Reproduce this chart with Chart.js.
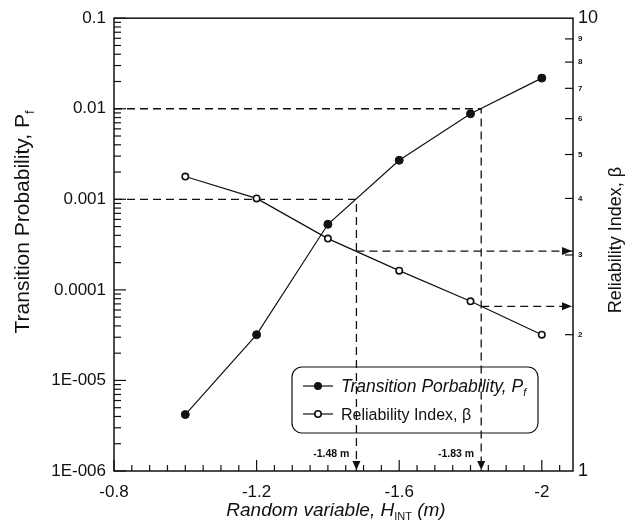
<!DOCTYPE html>
<html><head><meta charset="utf-8">
<script src="https://cdn.jsdelivr.net/npm/chart.js@4.4.0/dist/chart.umd.min.js"></script>
<style>html,body{margin:0;padding:0;background:#fff;}#wrap{width:627px;height:526px;position:relative;}</style>
</head><body><div id="wrap"><canvas id="c" width="627" height="526"></canvas></div>
<script>
// ---- data ----
const xValues = [-1.0, -1.2, -1.4, -1.6, -1.8, -2.0];
const transitionProb = [4.2e-6, 3.2e-5, 5.3e-4, 2.7e-3, 8.8e-3, 0.0218];
const reliabilityIdx = [4.47, 4.0, 3.26, 2.77, 2.37, 2.0];

// axes
const xMin = -2.0875, xMax = -0.8;
const xTickValues = [-0.8,-0.85,-0.9,-0.95,-1.0,-1.05,-1.1,-1.15,-1.2,-1.25,-1.3,-1.35,-1.4,-1.45,-1.5,-1.55,-1.6,-1.65,-1.7,-1.75,-1.8,-1.85,-1.9,-1.95,-2.0,-2.05];
const xLabelValues = [-0.8, -1.2, -1.6, -2.0];
const xLabelText = ['-0.8', '-1.2', '-1.6', '-2'];
const pfDecades = [1e-6, 1e-5, 1e-4, 1e-3, 1e-2, 1e-1];
const pfLabels = ['1E-006', '1E-005', '0.0001', '0.001', '0.01', '0.1'];
const betaTicks = [1,2,3,4,5,6,7,8,9,10];
const betaLabels = ['1','2','3','4','5','6','7','8','9','10'];

// reference guides
const guideX = [-1.48, -1.83];
const guidePf = [0.001, 0.01];
const guideBeta = [3.06, 2.31];
const guideText = ['-1.48 m', '-1.83 m'];

const FONT = '"Liberation Sans", Arial, Helvetica, sans-serif';
const INK = '#111';

function pts(xs, ys){ return xs.map((x,i)=>({x:x, y:ys[i]})); }

const datasets = [
  {label:'Pf', data: pts(xValues, transitionProb), yAxisID:'y', borderColor:INK, borderWidth:1.2,
   pointRadius:4, pointBackgroundColor:INK, pointBorderColor:INK, pointBorderWidth:1, tension:0},
  {label:'beta', data: pts(xValues, reliabilityIdx), yAxisID:'y2', borderColor:INK, borderWidth:1.2,
   pointRadius:3.2, pointBackgroundColor:'#fff', pointBorderColor:INK, pointBorderWidth:1.6, tension:0}
];
guideX.forEach((gx,i)=>{
  datasets.push({label:'g'+i, data:[{x:xMax,y:guidePf[i]},{x:gx,y:guidePf[i]},{x:gx,y:pfDecades[0]}],
    yAxisID:'y', borderColor:INK, borderWidth:1.3, borderDash:[8,5], pointRadius:0, tension:0});
  datasets.push({label:'b'+i, data:[{x:gx,y:guideBeta[i]},{x:xMin,y:guideBeta[i]}],
    yAxisID:'y2', borderColor:INK, borderWidth:1.3, borderDash:[8,5], pointRadius:0, tension:0});
});

function rich(ctx, parts, x, y, rot, align){
  ctx.save(); ctx.translate(x,y); ctx.rotate(rot);
  let w=0; parts.forEach(p=>{ctx.font=p.f; p.w=ctx.measureText(p.t).width; w+=p.w;});
  let cx = align==='center' ? -w/2 : (align==='right' ? -w : 0);
  ctx.textBaseline='alphabetic'; ctx.textAlign='left'; ctx.fillStyle=INK;
  parts.forEach(p=>{ctx.font=p.f; ctx.fillText(p.t, cx, p.dy||0); cx+=p.w;});
  ctx.restore();
}

const decor = {
  id:'decor',
  afterDatasetsDraw(chart){
    const ctx = chart.ctx, a = chart.chartArea;
    const sx = chart.scales.x, sy = chart.scales.y, sy2 = chart.scales.y2;
    ctx.save();
    ctx.strokeStyle = INK; ctx.fillStyle = INK;
    // frame
    ctx.lineWidth = 1.5;
    ctx.strokeRect(a.left, a.top, a.right-a.left, a.bottom-a.top);
    // ticks left (log)
    ctx.lineWidth = 1.2;
    sy.ticks.forEach(t=>{
      const py = sy.getPixelForValue(t.value);
      const major = pfDecades.some(d=>Math.abs(d-t.value)/d<1e-6);
      const len = major ? 12 : 7;
      ctx.beginPath(); ctx.moveTo(a.left, py); ctx.lineTo(a.left+len, py); ctx.stroke();
    });
    // ticks right
    sy2.ticks.forEach(t=>{
      if (t.value<=1 || t.value>=10) return;
      const py = sy2.getPixelForValue(t.value);
      ctx.beginPath(); ctx.moveTo(a.right, py); ctx.lineTo(a.right-8, py); ctx.stroke();
    });
    // ticks bottom
    sx.ticks.forEach(t=>{
      const px = sx.getPixelForValue(t.value);
      const r = Math.abs(t.value/0.4 - Math.round(t.value/0.4)) < 1e-6;
      const len = r ? 11 : 6;
      ctx.beginPath(); ctx.moveTo(px, a.bottom); ctx.lineTo(px, a.bottom-len); ctx.stroke();
    });
    // arrowheads and guide labels
    guideX.forEach((gx,i)=>{
      const px = sx.getPixelForValue(gx);
      ctx.beginPath(); ctx.moveTo(px-4, a.bottom-10); ctx.lineTo(px+4, a.bottom-10); ctx.lineTo(px, a.bottom-1); ctx.closePath(); ctx.fill();
      const py = sy2.getPixelForValue(guideBeta[i]);
      ctx.beginPath(); ctx.moveTo(a.right-11, py-4); ctx.lineTo(a.right-11, py+4); ctx.lineTo(a.right-1, py); ctx.closePath(); ctx.fill();
      ctx.font = 'bold 10.5px ' + FONT; ctx.textAlign='right'; ctx.textBaseline='middle';
      ctx.fillText(guideText[i], px-7, 454);
    });
    // legend
    const lx = 292, ly = 367, lw = 246, lh = 66, rr = 10;
    ctx.lineWidth = 1.2;
    ctx.beginPath(); ctx.roundRect(lx, ly, lw, lh, rr); ctx.stroke();
    const rows = [386, 414];
    rows.forEach((ry,i)=>{
      ctx.beginPath(); ctx.moveTo(303, ry); ctx.lineTo(333, ry); ctx.stroke();
      ctx.beginPath(); ctx.arc(318, ry, i===0?4:3.2, 0, Math.PI*2);
      if (i===0){ ctx.fill(); } else { ctx.fillStyle='#fff'; ctx.fill(); ctx.lineWidth=1.6; ctx.stroke(); ctx.lineWidth=1.2; ctx.fillStyle=INK; }
    });
    rich(ctx, [{t:'Transition Porbability, P', f:'italic 17.5px '+FONT},{t:'f', f:'italic 11px '+FONT, dy:4}], 341, rows[0]+6, 0, 'left');
    rich(ctx, [{t:'Reliability Index, \u03B2', f:'16px '+FONT}], 341, rows[1]+6, 0, 'left');
    // axis titles
    rich(ctx, [{t:'Transition Probability, P', f:'21px '+FONT},{t:'f', f:'13px '+FONT, dy:5}], 29, 222, -Math.PI/2, 'center');
    rich(ctx, [{t:'Reliability Index, \u03B2', f:'18px '+FONT}], 621, 240, -Math.PI/2, 'center');
    rich(ctx, [{t:'Random variable, H', f:'italic 19px '+FONT},{t:'INT', f:'11px '+FONT, dy:4},{t:' (m)', f:'italic 19px '+FONT}], 336, 516, 0, 'center');
    ctx.restore();
  }
};

new Chart(document.getElementById('c'), {
  type:'line',
  data:{datasets},
  options:{
    responsive:false, animation:false, devicePixelRatio:1,
    layout:{padding:{top:13, left:0, right:0, bottom:0}},
    plugins:{legend:{display:false}, tooltip:{enabled:false}},
    scales:{
      x:{type:'linear', reverse:true, min:xMin, max:xMax,
        grid:{display:false, drawTicks:false}, border:{display:false},
        afterBuildTicks:s=>{ s.ticks = xTickValues.map(v=>({value:v})); },
        afterFit:s=>{ s.height = 55; },
        ticks:{autoSkip:false, maxRotation:0, padding:11, color:INK, font:{family:FONT, size:17},
          callback:(v)=>{ const k = xLabelValues.findIndex(u=>Math.abs(u-v)<1e-6); return k>=0 ? xLabelText[k] : ''; }}
      },
      y:{type:'logarithmic', position:'left', min:pfDecades[0], max:pfDecades[pfDecades.length-1],
        grid:{display:false, drawTicks:false}, border:{display:false},
        afterBuildTicks:s=>{ const t=[]; for(let d=0; d<pfDecades.length; d++){ for(let m=1;m<=9;m++){ const v=pfDecades[d]*m; if(v<=pfDecades[pfDecades.length-1]*1.0000001) t.push({value:v}); } } s.ticks=t; },
        afterFit:s=>{ s.width = 114; },
        ticks:{autoSkip:false, padding:8, color:INK, font:{family:FONT, size:17},
          callback:(v)=>{ const k = pfDecades.findIndex(d=>Math.abs(d-v)/d<1e-6); return k>=0 ? pfLabels[k] : ''; }}
      },
      y2:{type:'logarithmic', position:'right', min:betaTicks[0], max:betaTicks[betaTicks.length-1],
        grid:{display:false, drawTicks:false}, border:{display:false},
        afterBuildTicks:s=>{ s.ticks = betaTicks.map(v=>({value:v})); },
        afterFit:s=>{ s.width = 54; },
        ticks:{autoSkip:false, padding:5, color:INK,
          font:(c)=>{ const v = c.tick ? c.tick.value : 1; return (v===1||v===10) ? {family:FONT, size:18} : {family:FONT, size:8, weight:'bold'}; },
          callback:(v)=>{ const k = betaTicks.indexOf(v); return k>=0 ? betaLabels[k] : ''; }}
      }
    }
  },
  plugins:[decor]
});
</script></body></html>
